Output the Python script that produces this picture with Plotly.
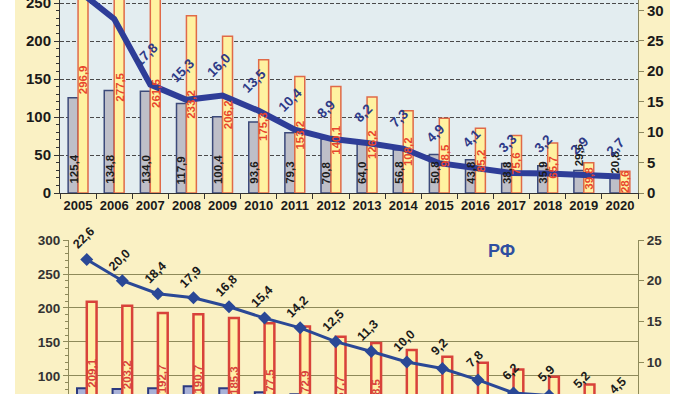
import plotly.graph_objects as go

years = [str(y) for y in range(2005, 2021)]

# top panel
top_gray = [125.4, 134.8, 134.0, 117.9, 100.4, 93.6, 79.3, 70.8, 64.0, 56.8, 50.8, 43.8, 38.8, 35.9, 29.6, 20.8]
top_yellow = [296.9, 277.5, 261.5, 233.2, 206.2, 175.3, 153.2, 140.1, 126.2, 108.2, 98.5, 85.2, 75.6, 65.7, 39.8, 28.6]
top_line = [33.3, 28.6, 17.8, 15.3, 16.0, 13.5, 10.4, 8.9, 8.2, 7.3, 4.9, 4.1, 3.3, 3.2, 2.9, 2.7]

# bottom panel (RF)
bot_gray = [82.0, 81.0, 82.0, 85.0, 82.0, 76.0, 73.0, 68.0, 64.0, 60.0, 57.0, 53.0, 49.0, 46.0, 42.0, 38.0]
bot_yellow = [209.1, 203.2, 192.7, 190.7, 185.3, 177.5, 172.9, 157.7, 148.5, 138.3, 128.3, 119.5, 109.5, 98.7, 87.3, 68.0]
bot_line = [22.6, 20.0, 18.4, 17.9, 16.8, 15.4, 14.2, 12.5, 11.3, 10.0, 9.2, 7.8, 6.2, 5.9, 5.2, 4.5]

FONT = "Liberation Sans, Arial, sans-serif"
W = 0.275
Y2MAX = 31.7
TOP_OFF = 4.9
BOT_OFF = 2.6


def fmt(v):
    return f"{v:.1f}".replace(".", ",")


fig = go.Figure()

# ---- top panel ----
fig.add_trace(go.Bar(x=years, y=top_gray, xaxis="x", yaxis="y", width=W, offset=-W,
                     marker=dict(color="#BEBFC8", line=dict(color="#3C4A7A", width=1.5)),
                     hoverinfo="skip"))
fig.add_trace(go.Bar(x=years, y=top_yellow, xaxis="x", yaxis="y", width=W, offset=0,
                     marker=dict(color="#FFF2A0", line=dict(color="#E06A48", width=1.5)),
                     hoverinfo="skip"))
fig.add_trace(go.Scatter(x=years, y=top_line, xaxis="x", yaxis="y2", mode="lines",
                         line=dict(color="#2E3D98", width=6), hoverinfo="skip"))

# ---- bottom panel ----
fig.add_trace(go.Bar(x=years, y=bot_gray, xaxis="x2", yaxis="y3", width=W, offset=-W,
                     marker=dict(color="#A9B2D8", line=dict(color="#2B3A80", width=2)),
                     hoverinfo="skip"))
fig.add_trace(go.Bar(x=years, y=bot_yellow, xaxis="x2", yaxis="y3", width=W, offset=0,
                     marker=dict(color="#FFF0A8", line=dict(color="#D8423A", width=2.5)),
                     hoverinfo="skip"))
fig.add_trace(go.Scatter(x=years, y=bot_line, xaxis="x2", yaxis="y4", mode="lines+markers",
                         line=dict(color="#2A4896", width=3),
                         marker=dict(symbol="diamond", size=10, color="#2A4896"),
                         hoverinfo="skip"))

ann = []
for i, (g, yl, ln) in enumerate(zip(top_gray, top_yellow, top_line)):
    inside = g >= 33
    ann.append(dict(x=i, y=0 if inside else g, xref="x", yref="y", text=fmt(g),
                    showarrow=False, textangle=-90, xshift=-5, yshift=7 if inside else 2,
                    yanchor="bottom",
                    font=dict(family=FONT, size=11.5, color="#1b1b1b", weight="bold")))
    ann.append(dict(x=i, y=yl / 2, xref="x", yref="y", text=fmt(yl),
                    showarrow=False, textangle=-90, xshift=5, yanchor="middle",
                    font=dict(family=FONT, size=11.5, color="#E8452C", weight="bold")))
    if ln + TOP_OFF <= Y2MAX:
        ann.append(dict(x=i, y=ln, xref="x", yref="y2", text=fmt(ln),
                        showarrow=True, arrowcolor="rgba(0,0,0,0)", arrowwidth=0.1, arrowhead=0,
                        axref="pixel", ax=-4, ayref="y2", ay=ln + TOP_OFF, textangle=-45,
                        font=dict(family=FONT, size=13.5, color="#2E3A87", weight="bold")))

for i, (yl, ln) in enumerate(zip(bot_yellow, bot_line)):
    ann.append(dict(x=i, y=yl / 2, xref="x2", yref="y3", text=fmt(yl),
                    showarrow=False, textangle=-90, xshift=5, yanchor="middle",
                    font=dict(family=FONT, size=11.5, color="#D8423A", weight="bold")))
    ann.append(dict(x=i, y=ln, xref="x2", yref="y4", text=fmt(ln),
                    showarrow=True, arrowcolor="rgba(0,0,0,0)", arrowwidth=0.1, arrowhead=0,
                    axref="pixel", ax=-3, ayref="y4", ay=ln + BOT_OFF, textangle=-45,
                    font=dict(family=FONT, size=12.5, color="#1a1a1a", weight="bold")))

ann.append(dict(x=517 / 700, y=(394 - 263) / 394, xref="paper", yref="paper", text="РФ",
                showarrow=False, font=dict(family=FONT, size=18, color="#2F4FA0", weight="bold")))

shapes = [
    dict(type="rect", xref="paper", yref="paper", x0=15 / 700, x1=670 / 700, y0=0, y1=1,
         fillcolor="#FAF1C4", line=dict(width=0), layer="below"),
    dict(type="rect", xref="x domain", yref="y domain", x0=0, x1=1, y0=0, y1=1,
         fillcolor="#E3EDF0", line=dict(width=0), layer="below"),
]

fig.update_layout(
    width=700, height=394,
    margin=dict(l=0, r=0, t=0, b=0, autoexpand=False),
    paper_bgcolor="white", plot_bgcolor="rgba(0,0,0,0)",
    showlegend=False,
    barmode="overlay",
    hovermode=False,
    font=dict(family=FONT),
    annotations=ann,
    shapes=shapes,
    xaxis=dict(domain=[60 / 700, 638 / 700], anchor="y", type="category", range=[-0.5, 15.5],
               automargin=False,
               showline=True, linecolor="#333", linewidth=1, ticks="outside", tickson="boundaries",
               ticklen=5, tickcolor="#333", showgrid=False, tickangle=0,
               tickfont=dict(family=FONT, size=13, color="#1a1a1a", weight="bold")),
    yaxis=dict(domain=[201 / 394, 1], anchor="x", range=[0, 254], automargin=False,
               ticklabeloverflow="allow",
               tickvals=[0, 50, 100, 150, 200, 250], showgrid=True, gridcolor="#4a4a4a",
               griddash="4px,2px", gridwidth=1, zeroline=False,
               showline=True, linecolor="#333", linewidth=1, ticks="outside", ticklen=5,
               tickcolor="#333",
               minor=dict(dtick=10, ticks="outside", ticklen=3, tickcolor="#333", showgrid=False),
               tickfont=dict(family=FONT, size=15, color="#1a1a1a", weight="bold")),
    yaxis2=dict(overlaying="y", side="right", anchor="x", range=[0, Y2MAX], dtick=5,
                automargin=False, ticklabeloverflow="allow",
                showgrid=False, zeroline=False, showline=True, linecolor="#8A8660", linewidth=1,
                ticks="outside", ticklen=5, tickcolor="#8A8660",
                tickfont=dict(family=FONT, size=15, color="#1a1a1a", weight="bold")),
    xaxis2=dict(domain=[69 / 700, 638 / 700], anchor="y3", type="category", range=[-0.5, 15.5],
                automargin=False,
                showticklabels=False, showline=False, ticks="", showgrid=False),
    yaxis3=dict(domain=[0, 154 / 394], anchor="x2", range=[73.5, 300], automargin=False,
                tickvals=[100, 150, 200, 250, 300], showgrid=True, gridcolor="#8E8A5A",
                gridwidth=1, zeroline=False, showline=True, linecolor="#8E8A5A", linewidth=1,
                ticks="outside", ticklen=5, tickcolor="#8E8A5A",
                minor=dict(dtick=10, ticks="outside", ticklen=3, tickcolor="#8E8A5A", showgrid=False),
                tickfont=dict(family=FONT, size=13.5, color="#333", weight="bold")),
    yaxis4=dict(overlaying="y3", side="right", anchor="x2", range=[6.07, 25], automargin=False,
                tickvals=[10, 15, 20, 25], showgrid=False, zeroline=False, showline=True,
                linecolor="#8E8A5A", linewidth=1, ticks="outside", ticklen=5, tickcolor="#8E8A5A",
                tickfont=dict(family=FONT, size=13.5, color="#333", weight="bold")),
)

fig.write_html("out.html", config={"displayModeBar": False, "staticPlot": True},
               post_script="document.body.style.margin='0';document.body.style.overflow='hidden';")
